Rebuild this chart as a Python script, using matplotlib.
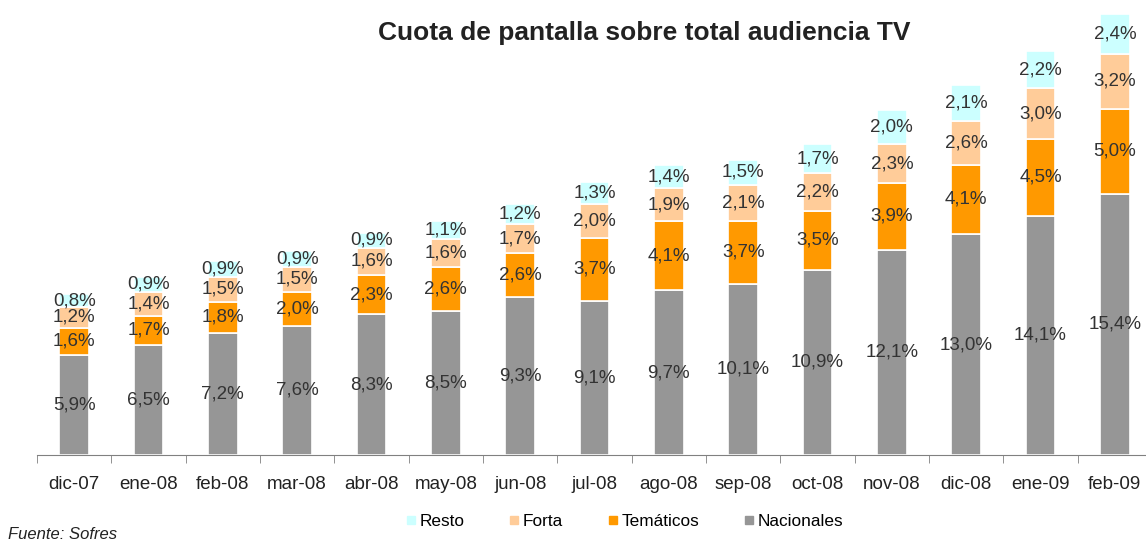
import matplotlib.pyplot as plt
import numpy as np
from matplotlib.lines import Line2D

plt.rcParams['font.family'] = ['Liberation Sans', 'DejaVu Sans']

meses = ['dic-07', 'ene-08', 'feb-08', 'mar-08', 'abr-08', 'may-08', 'jun-08', 'jul-08',
         'ago-08', 'sep-08', 'oct-08', 'nov-08', 'dic-08', 'ene-09', 'feb-09']
nacionales = [5.9, 6.5, 7.2, 7.6, 8.3, 8.5, 9.3, 9.1, 9.7, 10.1, 10.9, 12.1, 13.0, 14.1, 15.4]
tematicos = [1.6, 1.7, 1.8, 2.0, 2.3, 2.6, 2.6, 3.7, 4.1, 3.7, 3.5, 3.9, 4.1, 4.5, 5.0]
forta = [1.2, 1.4, 1.5, 1.5, 1.6, 1.6, 1.7, 2.0, 1.9, 2.1, 2.2, 2.3, 2.6, 3.0, 3.2]
resto = [0.8, 0.9, 0.9, 0.9, 0.9, 1.1, 1.2, 1.3, 1.4, 1.5, 1.7, 2.0, 2.1, 2.2, 2.4]

series = [('Nacionales', nacionales, '#969696'),
          ('Temáticos', tematicos, '#FF9900'),
          ('Forta', forta, '#FFCC99'),
          ('Resto', resto, '#CCFFFF')]

fig = plt.figure(figsize=(11.46, 5.43), dpi=100)
ax = fig.add_axes([37/1146, 88/543, 1115/1146, 455/543])

x = np.arange(len(meses))
bottom = np.zeros(len(meses))
for name, vals, col in series:
    vals = np.array(vals)
    ax.bar(x, vals, 0.4, bottom=bottom, color=col, edgecolor='white', linewidth=1.2, clip_on=False)
    for xi, b, v in zip(x, bottom, vals):
        ax.text(xi, b + v / 2, f'{v:.1f}%'.replace('.', ','), ha='center', va='center',
                fontsize=13.5, color='#333333', clip_on=False)
    bottom = bottom + vals

ax.set_xlim(-0.5, len(meses) - 0.5)
ax.set_ylim(0, 26.8)
ax.set_xticks(x)
ax.set_xticklabels(meses, fontsize=13.5, color='#222222')
ax.set_xticks(np.arange(-0.5, len(meses), 1), minor=True)
ax.tick_params(axis='x', which='major', length=0, pad=15)
ax.tick_params(axis='x', which='minor', length=6, color='#808080', direction='out')
ax.set_yticks([])
for s in ['top', 'right', 'left']:
    ax.spines[s].set_visible(False)
ax.spines['bottom'].set_color('#808080')

fig.text(0.562, 0.94, 'Cuota de pantalla sobre total audiencia TV', ha='center', va='center',
         fontsize=19, fontweight='bold', color='#222222')

handles = [Line2D([], [], marker='s', linestyle='none', markersize=6, color=col, label=name)
           for name, vals, col in series[::-1]]
fig.legend(handles=handles, loc='center', bbox_to_anchor=(0.545, 0.039), ncol=4, frameon=False,
           fontsize=12.4, handletextpad=0.2, columnspacing=2.6, handlelength=0.6)

fig.text(0.007, 0.001, 'Fuente: Sofres', ha='left', va='bottom', fontsize=12,
         style='italic', color='#222222')

fig.savefig('out.png', dpi=100)
